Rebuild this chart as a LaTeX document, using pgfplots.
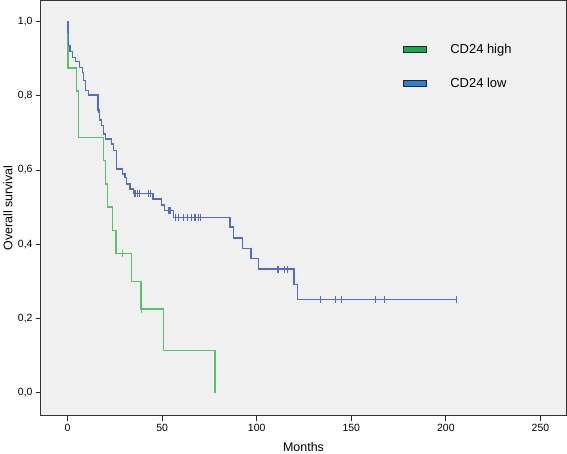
\documentclass[border=0pt]{standalone}
\usepackage{pgfplots}
\pgfplotsset{compat=1.18}
\usepackage{fontspec}
\setmainfont{Liberation Sans}
\definecolor{cgreen}{RGB}{88,196,104}
\definecolor{cblue}{RGB}{82,108,200}
\definecolor{lgreen}{RGB}{24,168,78}
\definecolor{lblue}{RGB}{44,128,210}
\definecolor{bggray}{RGB}{240,240,240}
\begin{document}
\begin{tikzpicture}
\begin{axis}[
  at={(0,0)}, anchor=south west,
  width=525bp, height=415bp, scale only axis,
  xmin=-14, xmax=263.5, ymin=-0.062, ymax=1.057,
  xtick={0,50,100,150,200,250},
  ytick={0,0.2,0.4,0.6,0.8,1.0},
  xtick pos=left, ytick pos=left,
  tick align=outside, major tick length=5bp,
  tick style={black!85, line width=0.8bp},
  axis line style={black!80, line width=1bp},
  axis background/.style={fill=bggray},
  /pgf/number format/assume math mode=true,
  yticklabel style={/pgf/number format/.cd, fixed, fixed zerofill, precision=1, use comma},
  ticklabel style={font=\fontsize{10.5}{12}\selectfont},
  xlabel={Months}, ylabel={Overall survival},
  label style={font=\fontsize{12.5}{14}\selectfont},
  xlabel style={at={(axis description cs:0.5,-0.075)}, anchor=center},
  ylabel style={at={(axis description cs:-0.063,0.5)}, anchor=center},
  legend style={at={(rel axis cs:0.69,0.903)}, anchor=north west, draw=none, fill=none,
    font=\fontsize{13}{15}\selectfont, row sep=17bp, inner sep=0pt,
    nodes={inner sep=3bp}},
  legend cell align=left,
]
\addlegendimage{legend image code/.code={\draw[fill=lgreen,draw=black!85,line width=0.9bp] (0bp,-2.7bp) rectangle (23bp,2.7bp);}}
\addlegendentry{\hspace{20bp}CD24 high}
\addlegendimage{legend image code/.code={\draw[fill=lblue,draw=black!85,line width=0.9bp] (0bp,-2.7bp) rectangle (23bp,2.7bp);}}
\addlegendentry{\hspace{20bp}CD24 low}

% CD24 high
\addplot[const plot, cgreen, line width=1.4bp, forget plot] coordinates {
(0,1.0)(0.2,0.875)(4.9,0.8125)(5.8,0.6875)(19.0,0.625)(20.0,0.5625)(21.1,0.5)(23.9,0.4375)(25.7,0.375)(33.8,0.3)(38.9,0.225)(50.7,0.1125)(77.9,0)
};
\addplot[only marks, mark=|, mark size=3.5bp, cgreen, mark options={line width=1.1bp}, forget plot] coordinates {
(28.9,0.375)(39.2,0.225)
};

% CD24 low
\addplot[const plot, cblue, line width=1.4bp, forget plot] coordinates {
(0,1.0)(0.2,0.971)(0.6,0.935)(1.4,0.92)(2.8,0.904)(4.2,0.892)(6.3,0.877)(7.8,0.863)(8.5,0.841)(9.5,0.814)(11.1,0.802)(16.2,0.762)(16.9,0.735)(17.9,0.72)(19.0,0.697)(20.2,0.684)(23.4,0.670)(24.3,0.652)(26.0,0.603)(29.2,0.589)(30.5,0.58)(31.3,0.5625)(33.1,0.549)(34.8,0.537)(45.1,0.522)(49.8,0.506)(51.4,0.490)(56.0,0.4725)(86.0,0.446)(87.7,0.417)(92.6,0.388)(96.9,0.361)(100.9,0.333)(119.8,0.292)(121.7,0.25)(205.8,0.25)
};
\addplot[only marks, mark=|, mark size=3.5bp, cblue, mark options={line width=1.1bp}, forget plot] coordinates {
(16.2,0.762)(35.7,0.537)(36.8,0.537)(38,0.537)(42.8,0.537)(44,0.537)(53.6,0.490)(54.2,0.490)(57,0.4725)(58.6,0.4725)(61.3,0.4725)(63.6,0.4725)(65.7,0.4725)(67.4,0.4725)(69.2,0.4725)(70.1,0.4725)(111,0.333)(111.7,0.333)(114.5,0.333)(116.2,0.333)(133.7,0.25)(141.8,0.25)(144.6,0.25)(162.6,0.25)(167.5,0.25)(205.8,0.25)
};
\end{axis}
\pgfresetboundingbox
\path[use as bounding box] (-41bp,-38bp) rectangle (526bp,415.5bp);
\end{tikzpicture}
\end{document}
